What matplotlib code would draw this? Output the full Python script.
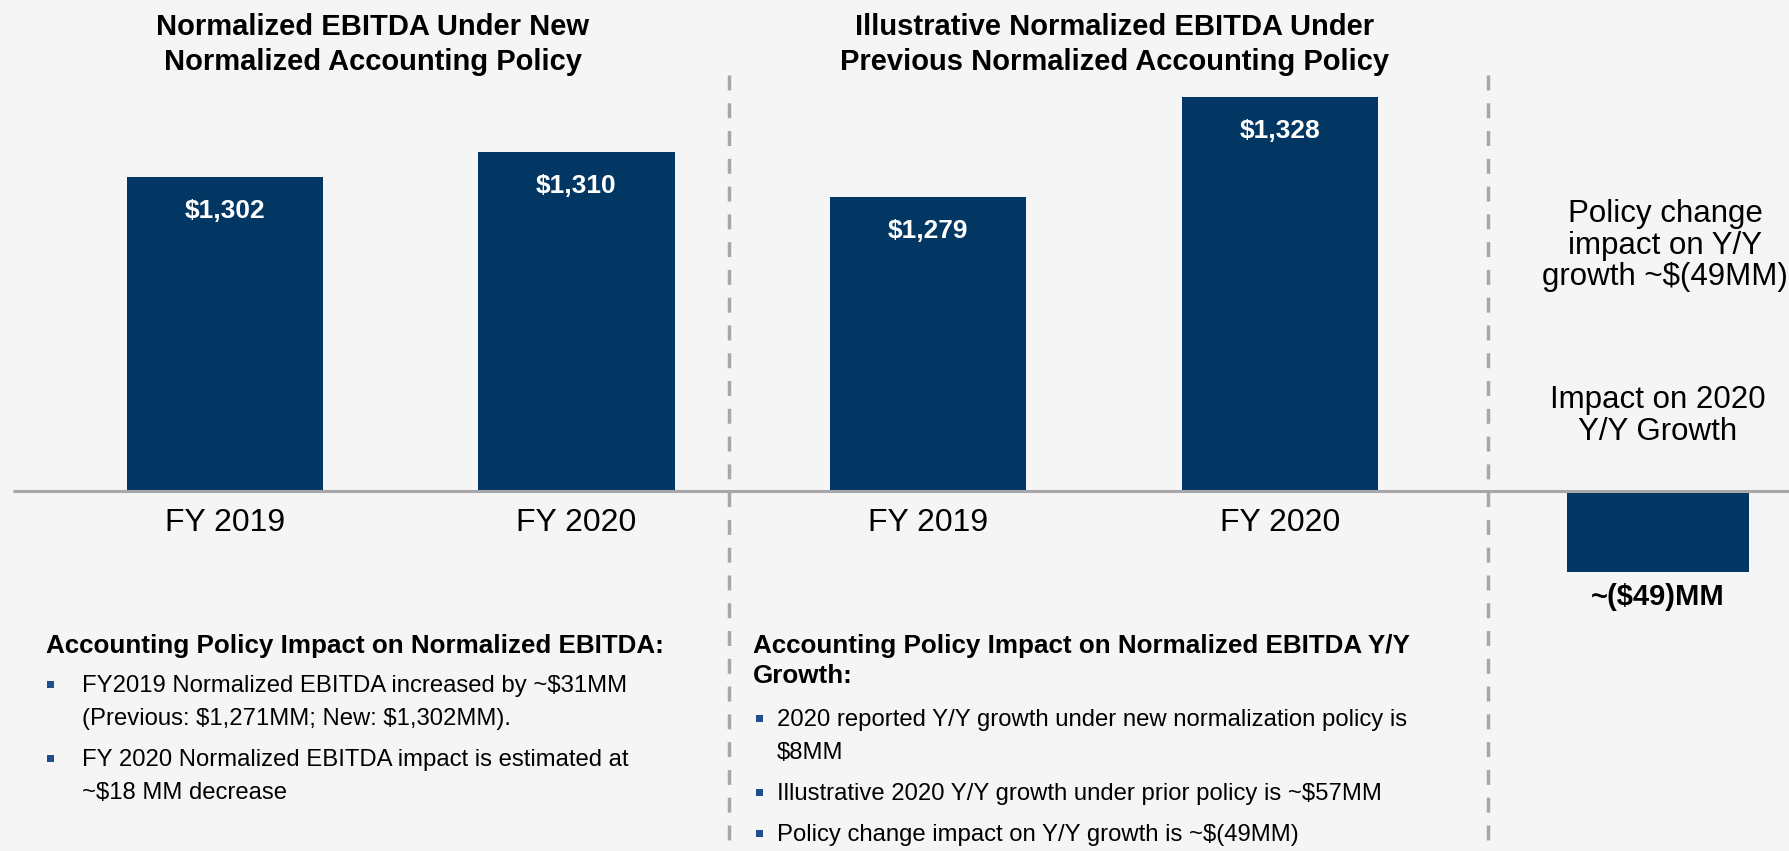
import matplotlib
matplotlib.use("Agg")
import matplotlib.pyplot as plt
import matplotlib.transforms as mtransforms
from matplotlib.lines import Line2D
from matplotlib.patches import Rectangle

# ── Data ─────────────────────────────────────────────────────────────────────
CATEGORIES = ["FY 2019", "FY 2020"]
EBITDA_NEW = [1302, 1310]      # new normalized accounting policy ($MM)
EBITDA_PREV = [1279, 1328]     # illustrative, previous policy ($MM)
YY_IMPACT = [-49]              # policy change impact on 2020 Y/Y growth

TITLE_NEW = ["Normalized EBITDA Under New", "Normalized Accounting Policy"]
TITLE_PREV = ["Illustrative Normalized EBITDA Under",
              "Previous Normalized Accounting Policy"]
RIGHT_NOTE = ["Policy change", "impact on Y/Y", "growth ~$(49MM)"]
RIGHT_HEAD = ["Impact on 2020", "Y/Y Growth"]

LEFT_HEAD = ["Accounting Policy Impact on Normalized EBITDA:"]
LEFT_BULLETS = [
    ["FY2019 Normalized EBITDA increased by ~$31MM",
     "(Previous: $1,271MM; New: $1,302MM)."],
    ["FY 2020 Normalized EBITDA impact is estimated at",
     "~$18 MM decrease"],
]
MID_HEAD = ["Accounting Policy Impact on Normalized EBITDA Y/Y", "Growth:"]
MID_BULLETS = [
    ["2020 reported Y/Y growth under new normalization policy is", "$8MM"],
    ["Illustrative 2020 Y/Y growth under prior policy is ~$57MM"],
    ["Policy change impact on Y/Y growth is ~$(49MM)"],
]

# ── Style ────────────────────────────────────────────────────────────────────
W, H, DPI = 1790, 851, 100
BG = "#F5F5F5"
NAVY = "#023763"
GREY = "#A7A7A9"
BULLET = "#1F4E8A"
BASE_Y = 491   # pixel row of the grey baseline

plt.rcParams["font.family"] = ["Liberation Sans", "DejaVu Sans"]
plt.rcParams["text.parse_math"] = False   # plain dollar signs

fig = plt.figure(figsize=(W / DPI, H / DPI), dpi=DPI, facecolor=BG)
# pixel coordinates, origin top-left
PX = mtransforms.Affine2D().scale(1 / W, -1 / H).translate(0, 1) + fig.transFigure


def px_axes(x0, y0, x1, y1):
    return fig.add_axes([x0 / W, 1 - y1 / H, (x1 - x0) / W, (y1 - y0) / H])


def put(x, y, s, **kw):
    kw.setdefault("va", "baseline")
    fig.text(x, y, s, transform=PX, parse_math=False, **kw)


def bar_panel(ax, values, ylim, width, xlim, labels=None):
    x = list(range(len(values)))
    bars = ax.bar(x, values, width=width, color=NAVY, zorder=1)
    ax.set_xlim(xlim)
    ax.set_ylim(ylim)
    ax.set_facecolor("none")
    for s in ax.spines.values():
        s.set_visible(False)
    ax.set_yticks([])
    if labels:
        ax.set_xticks(x, labels)
        ax.tick_params(axis="x", length=0, pad=12, labelsize=23)
    else:
        ax.set_xticks([])
    return bars


# ── Panel 1: new policy ──────────────────────────────────────────────────────
ax1 = px_axes(49.25, 60, 752.25, BASE_Y)
bars = bar_panel(ax1, EBITDA_NEW, (1199.0, 1340.3), 0.558, (-0.5, 1.5), CATEGORIES)
for b, v in zip(bars, EBITDA_NEW):
    ax1.annotate(f"${v:,}", xy=(b.get_x() + b.get_width() / 2, v),
                 xytext=(0, -22), textcoords="offset pixels", ha="center",
                 va="top", color="white", fontsize=19, fontweight="bold")

# ── Panel 2: previous policy ─────────────────────────────────────────────────
ax2 = px_axes(752.5, 60, 1455.9, BASE_Y)
bars = bar_panel(ax2, EBITDA_PREV, (1135.1, 1346.3), 0.558, (-0.5, 1.5), CATEGORIES)
for b, v in zip(bars, EBITDA_PREV):
    ax2.annotate(f"${v:,}", xy=(b.get_x() + b.get_width() / 2, v),
                 xytext=(0, -22), textcoords="offset pixels", ha="center",
                 va="top", color="white", fontsize=19, fontweight="bold")

# ── Panel 3: Y/Y impact ──────────────────────────────────────────────────────
ax3 = px_axes(1490, BASE_Y, 1790, 600)
bars = bar_panel(ax3, YY_IMPACT, (-66.2, 0), 0.607, (-0.56, 0.44))
for b, v in zip(bars, YY_IMPACT):
    ax3.annotate(f"~(${abs(v)})MM", xy=(b.get_x() + b.get_width() / 2, v),
                 xytext=(0, -11), textcoords="offset pixels", ha="center",
                 va="top", color="black", fontsize=21, fontweight="bold")

# ── Separators ───────────────────────────────────────────────────────────────
fig.add_artist(Line2D([13, W], [BASE_Y, BASE_Y], transform=PX, color=GREY,
                      lw=2.2, solid_capstyle="butt", zorder=5))
for xd in (729, 1488):
    fig.add_artist(Line2D([xd, xd], [75, H], transform=PX, color=GREY,
                          lw=2.5, dashes=(4.3, 3.7), zorder=5))

# ── Titles and side notes ────────────────────────────────────────────────────
for i, line in enumerate(TITLE_NEW):
    put(373, 35 + 35 * i, line, ha="center", fontsize=21, fontweight="bold")
for i, line in enumerate(TITLE_PREV):
    put(1115, 35 + 35 * i, line, ha="center", fontsize=21, fontweight="bold")
for i, line in enumerate(RIGHT_NOTE):
    put(1665, 222 + 31.7 * i, line, ha="center", fontsize=22.5)
for i, line in enumerate(RIGHT_HEAD):
    put(1658, 408 + 31.7 * i, line, ha="center", fontsize=22.5)


# ── Bullet blocks ────────────────────────────────────────────────────────────
def text_block(x_head, head, y_head, x_dot, x_text, bullets, y_first,
               head_step=30, line_step=33, bullet_gap=41):
    for i, line in enumerate(head):
        put(x_head, y_head + head_step * i, line, fontsize=18.7, fontweight="bold")
    y = y_first
    for item in bullets:
        fig.add_artist(Rectangle((x_dot - 3.5, y - 11), 7, 7, transform=PX,
                                 color=BULLET, lw=0))
        for j, line in enumerate(item):
            put(x_text, y + line_step * j, line, fontsize=17.2)
        y += line_step * (len(item) - 1) + bullet_gap


text_block(46, LEFT_HEAD, 653, 50.5, 82, LEFT_BULLETS, 692)
text_block(753, MID_HEAD, 653, 760, 777, MID_BULLETS, 726)

fig.savefig("out.png", dpi=DPI, facecolor=BG)
